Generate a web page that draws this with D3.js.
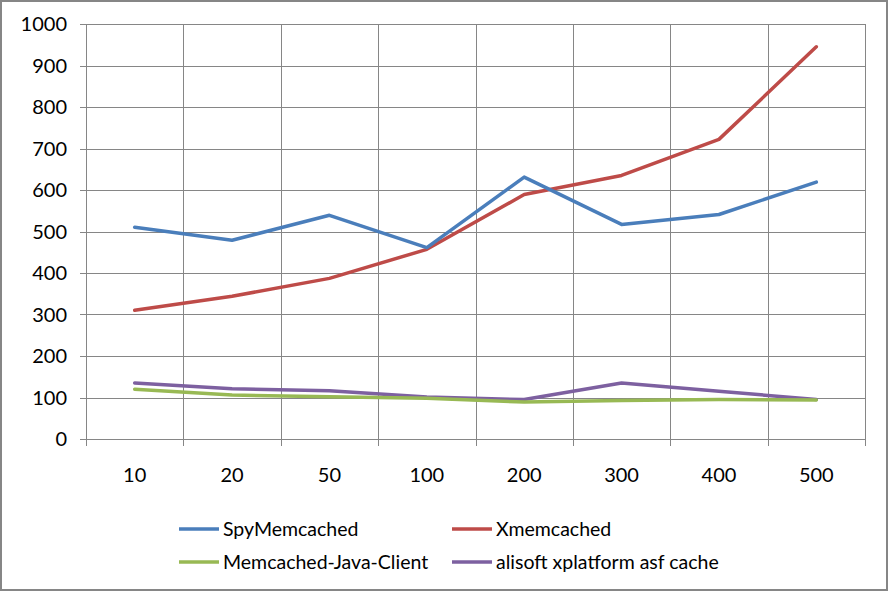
<!DOCTYPE html>
<html>
<head>
<meta charset="utf-8">
<script src="https://cdn.jsdelivr.net/npm/d3@7"></script>
<style>
  body { margin: 0; background: #fff; }
  text { font-family: Lato, "Open Sans", sans-serif; fill: #000; }
</style>
</head>
<body>
<div class="chart"></div>
<script>
const categories = ['10', '20', '50', '100', '200', '300', '400', '500'];
const seriesNames = ['SpyMemcached', 'Xmemcached', 'Memcached-Java-Client', 'alisoft xplatform asf cache'];
const spyMemcached = [510, 479, 539, 461, 631, 517, 541, 619];
const xmemcached = [310, 344, 387, 457, 589, 635, 722, 945];
const javaClient = [120, 106, 102, 98, 89, 93, 95, 94];
const alisoft = [135, 121, 116, 101, 95, 135, 115, 95];
const yTicks = [0, 100, 200, 300, 400, 500, 600, 700, 800, 900, 1000];

const colors = ['#4A7EBB', '#BE4B48', '#98B954', '#7D60A0'];
const allSeries = [spyMemcached, xmemcached, javaClient, alisoft];

let svgW = 889,
    svgH = 592,
    plotLeft = 86,
    plotRight = 865,
    plotTop = 24,
    plotBottom = 439;

const svg = d3.select('.chart')
    .append('svg')
    .attr('width', svgW)
    .attr('height', svgH);

svg.append('rect')
    .attr('x', 1)
    .attr('y', 1)
    .attr('width', svgW - 3)
    .attr('height', svgH - 3)
    .attr('fill', '#fff')
    .attr('stroke', '#868686')
    .attr('stroke-width', 2);

const x = d3.scaleBand().domain(categories).range([plotLeft, plotRight]);
const y = d3.scaleLinear().domain([0, 1000]).range([plotBottom, plotTop]);

// horizontal grid + left ticks
svg.selectAll('line.hgrid')
    .data(yTicks)
    .enter()
    .append('line')
    .attr('x1', plotLeft - 6)
    .attr('x2', plotRight)
    .attr('y1', d => Math.round(y(d)) + 0.5)
    .attr('y2', d => Math.round(y(d)) + 0.5)
    .attr('stroke', '#868686')
    .attr('stroke-width', 1);

// vertical grid between categories
const bounds = categories.map(c => x(c)).concat([plotRight]);
svg.selectAll('line.vgrid')
    .data(bounds)
    .enter()
    .append('line')
    .attr('x1', d => Math.round(d) + 0.5)
    .attr('x2', d => Math.round(d) + 0.5)
    .attr('y1', plotTop)
    .attr('y2', plotBottom + 7)
    .attr('stroke', '#868686')
    .attr('stroke-width', 1);

svg.selectAll('text.ylab')
    .data(yTicks)
    .enter()
    .append('text')
    .attr('x', 67)
    .attr('y', d => y(d))
    .attr('dy', '0.35em')
    .attr('text-anchor', 'end')
    .attr('font-size', 20)
    .text(d => d);

svg.selectAll('text.xlab')
    .data(categories)
    .enter()
    .append('text')
    .attr('x', d => x(d) + x.bandwidth() / 2)
    .attr('y', 475)
    .attr('dy', '0.35em')
    .attr('text-anchor', 'middle')
    .attr('font-size', 20)
    .text(d => d);

const line = d3.line()
    .x((d, i) => x(categories[i]) + x.bandwidth() / 2)
    .y(d => y(d));

// draw back to front so the first series sits on top like Excel
allSeries.slice().reverse().forEach((s, k) => {
    let i = allSeries.length - 1 - k;
    svg.append('path')
        .datum(s)
        .attr('d', line)
        .attr('fill', 'none')
        .attr('stroke', colors[i])
        .attr('stroke-width', 3.5)
        .attr('stroke-linejoin', 'round')
        .attr('stroke-linecap', 'round');
});

// legend
const legendPos = [[179, 529], [452, 529], [179, 562], [452, 562]];
seriesNames.forEach((name, i) => {
    let [lx, ly] = legendPos[i];
    svg.append('line')
        .attr('x1', lx)
        .attr('x2', lx + 40)
        .attr('y1', ly)
        .attr('y2', ly)
        .attr('stroke', colors[i])
        .attr('stroke-width', 3.5);
    svg.append('text')
        .attr('x', lx + 44)
        .attr('y', ly)
        .attr('dy', '0.35em')
        .attr('font-size', 19.5)
        .text(name);
});
</script>
</body>
</html>
